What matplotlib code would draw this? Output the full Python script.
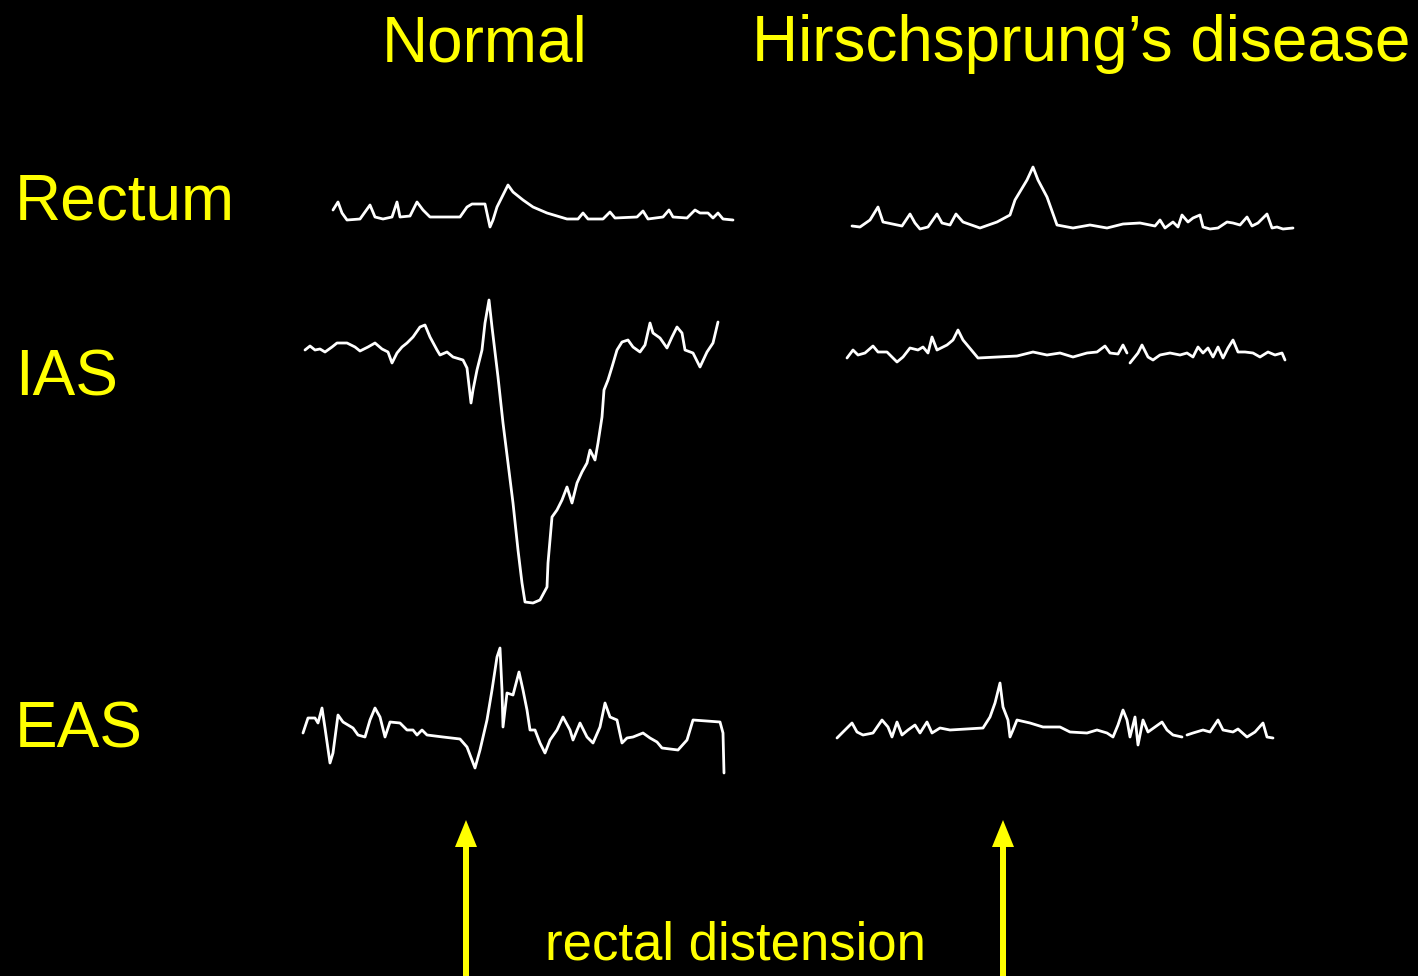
import numpy as np
import matplotlib
matplotlib.use("Agg")
import matplotlib.pyplot as plt

# ---- trace data (time position, pressure level) ----
normal_rectum_x = [333, 338, 342, 347, 360, 370, 375, 383, 392, 397, 400, 410, 417, 423, 430, 460, 467, 472, 485,
                   490, 493, 497, 508, 513, 523, 533, 547, 567, 578, 583, 588, 603, 610, 615, 637, 643, 648, 663,
                   669, 673, 687, 695, 700, 708, 713, 718, 723, 733]
normal_rectum_y = [210, 202, 213, 220, 219, 205, 217, 219, 217, 202, 217, 216, 202, 210, 217, 217, 207, 204, 204,
                   227, 220, 207, 185, 192, 200, 207, 213, 219, 219, 213, 219, 219, 212, 218, 217, 211, 219, 217,
                   210, 217, 218, 210, 213, 213, 218, 213, 219, 220]

hd_rectum_x = [852, 860, 870, 878, 883, 902, 910, 915, 920, 928, 937, 942, 950, 956, 963, 980, 997, 1010, 1015,
               1027, 1033, 1038, 1047, 1057, 1073, 1090, 1107, 1123, 1140, 1155, 1160, 1165, 1173, 1178, 1182,
               1188, 1193, 1200, 1203, 1210, 1218, 1227, 1233, 1240, 1247, 1252, 1258, 1267, 1272, 1277, 1283, 1293]
hd_rectum_y = [226, 227, 220, 207, 222, 226, 214, 223, 229, 227, 214, 223, 225, 214, 222, 228, 222, 215, 200,
               180, 167, 180, 197, 225, 228, 225, 228, 224, 223, 226, 220, 228, 222, 227, 215,
               222, 218, 215, 227, 229, 228, 222, 223, 225, 217, 226, 223, 214, 228, 227, 229, 228]

normal_ias_x = [305, 310, 315, 320, 325, 332, 337, 347, 355, 360, 368, 375, 382, 388, 392, 397, 402, 407, 413, 420,
                425, 430, 437, 440, 447, 453, 463, 467, 471, 473, 477, 482, 485, 489, 492, 498, 503, 508, 513, 518,
                522, 525, 533, 540, 547, 548, 552, 557, 562, 567, 572, 577, 582, 587, 590, 595, 598, 602, 604, 608,
                612, 617, 622, 628, 633, 640, 645, 650, 653, 660, 667, 672, 677, 682, 685, 693, 700, 707, 713, 718]
normal_ias_y = [350, 346, 350, 349, 352, 347, 343, 343, 347, 351, 347, 343, 349, 352, 363, 353, 347, 343, 337, 327,
                325, 337, 350, 355, 352, 357, 360, 368, 403, 390, 370, 350, 323, 300, 327, 377, 423, 463, 503, 550,
                583, 602, 603, 600, 587, 563, 517, 510, 500, 487, 503, 483, 472, 463, 450, 460, 443, 417, 390, 380,
                367, 350, 342, 340, 347, 352, 345, 323, 333, 338, 348, 337, 327, 333, 350, 353, 367, 352, 343, 322]

hd_ias_x = [847, 853, 858, 865, 873, 878, 887, 897, 903, 910, 918, 923, 928, 932, 937, 947, 953, 958, 963, 978,
            1017, 1033, 1047, 1060, 1073, 1087, 1097, 1105, 1110, 1118, 1123, 1127, np.nan, 1130, 1138, 1142, 1148,
            1153, 1160, 1170, 1180, 1187, 1193, 1198, 1203, 1208, 1213, 1218, 1223, 1228, 1233, 1238, 1245, 1253,
            1260, 1268, 1275, 1282, 1285]
hd_ias_y = [358, 350, 355, 353, 346, 352, 352, 362, 357, 348, 350, 347, 353, 337, 350, 345, 340, 330, 340, 358,
            356, 352, 355, 353, 357, 353, 352, 346, 353, 354, 345, 353, np.nan, 363, 353, 345, 357,
            360, 355, 353, 355, 353, 357, 347, 353, 348, 357, 347, 358, 348, 340, 352, 352, 353,
            357, 352, 355, 353, 360]

normal_eas_x = [303, 308, 315, 318, 322, 325, 330, 333, 338, 343, 353, 358, 365, 370, 375, 380, 385, 390, 400, 407,
                413, 417, 422, 427, 443, 460, 467, 475, 480, 487, 492, 497, 500, 502, 503, 507, 513, 519, 523, 527,
                530, 535, 540, 545, 550, 557, 563, 570, 573, 580, 587, 593, 600, 605, 610, 617, 622, 627, 633, 643,
                650, 657, 662, 678, 687, 693, 720, 723, 724]
normal_eas_y = [733, 718, 718, 723, 708, 728, 763, 753, 715, 722, 728, 735, 737, 720, 708, 717, 737, 722, 723, 730,
                730, 735, 730, 735, 737, 739, 747, 768, 750, 720, 690, 657, 648, 690, 727, 693, 695, 672, 690, 710,
                730, 730, 743, 753, 740, 730, 717, 730, 740, 723, 737, 743, 727, 703, 717, 720, 743, 738, 737, 733,
                738, 742, 748, 750, 740, 720, 722, 733, 773]

hd_eas_x = [837, 843, 852, 857, 863, 873, 882, 888, 892, 897, 902, 908, 915, 920, 927, 932, 940, 950, 983, 990,
            995, 1000, 1003, 1008, 1010, 1013, 1017, 1030, 1043, 1060, 1070, 1087, 1097, 1107, 1113, 1118, 1123,
            1127, 1130, 1135, 1138, 1143, 1148, 1155, 1162, 1167, 1173, 1182, np.nan, 1187, 1193, 1203, 1210, 1218,
            1223, 1233, 1238, 1247, 1255, 1263, 1267, 1273]
hd_eas_y = [738, 732, 723, 732, 735, 733, 720, 727, 737, 722, 735, 730, 725, 733, 722, 733, 728, 730, 728, 717,
            703, 683, 707, 720, 737, 730, 720, 723, 727, 727, 732, 733, 730, 733, 737, 725, 710,
            720, 737, 717, 745, 720, 732, 727, 722, 730, 735, 737, np.nan, 735, 733, 730, 732, 720,
            730, 732, 729, 737, 732, 723, 737, 738]

row_labels = ["Rectum", "IAS", "EAS"]
row_label_y = [220, 396, 747]
col_titles = ["Normal", "Hirschsprung\u2019s disease"]
col_title_x = [485, 1081]
arrow_x = [466, 1003]
caption = "rectal distension"

W, H = 1418, 976
fig = plt.figure(figsize=(W / 100, H / 100), dpi=100, facecolor="black")
ax = fig.add_axes([0, 0, 1, 1])
ax.set_facecolor("black")
ax.set_xlim(0, W)
ax.set_ylim(H, 0)
ax.axis("off")

yellow = "#FFFF00"
font = ["Liberation Sans", "DejaVu Sans"]

for xs, ys in [(normal_rectum_x, normal_rectum_y), (hd_rectum_x, hd_rectum_y),
               (normal_ias_x, normal_ias_y), (hd_ias_x, hd_ias_y),
               (normal_eas_x, normal_eas_y), (hd_eas_x, hd_eas_y)]:
    ax.plot(xs, ys, color="white", lw=2.0, solid_joinstyle="round", solid_capstyle="round")

for lab, y in zip(row_labels, row_label_y):
    ax.text(15, y, lab, color=yellow, fontsize=46, family=font, ha="left", va="baseline")

for t, x in zip(col_titles, col_title_x):
    ax.text(x, 61, t, color=yellow, fontsize=46, family=font, ha="center", va="baseline")

for x in arrow_x:
    ax.arrow(x, 990, 0, -170, width=6, head_width=22, head_length=27,
             length_includes_head=True, color=yellow, lw=0)

ax.text(735, 960, caption, color=yellow, fontsize=38, family=font, ha="center", va="baseline")

fig.savefig("out.png", dpi=100, facecolor="black")
